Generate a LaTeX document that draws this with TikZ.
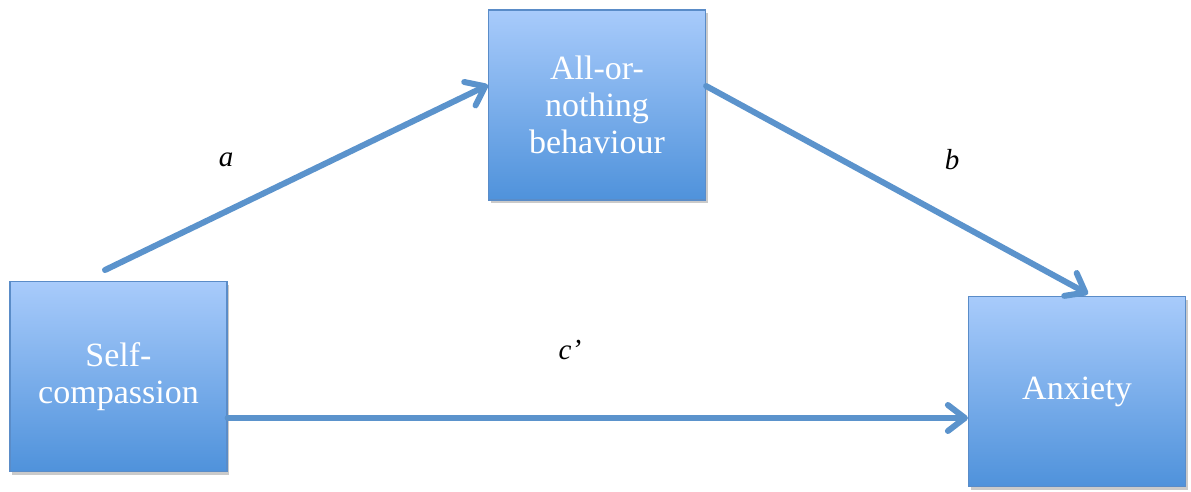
\documentclass[tikz,border=0pt]{standalone}
\usepackage{fontspec}
\setmainfont{Liberation Serif}
\usetikzlibrary{arrows.meta,shadows}
\begin{document}
\begin{tikzpicture}[x=1pt,y=-1pt,
  vbox/.style={draw=boxedge, line width=1.2pt, top color=boxtop, bottom color=boxbot,
    minimum width=217pt, minimum height=190pt, inner sep=0pt, text=white,
    font=\fontsize{34}{37}\selectfont, align=center,
    drop shadow={shadow xshift=2pt, shadow yshift=-3pt, opacity=0.35, fill=black!60}},
  conn/.style={draw=arrowcol, line width=6pt, line cap=round,
    -{Straight Barb[length=17pt, width=26pt, line width=6pt, round]}},
  lab/.style={font=\fontsize{29}{32}\selectfont\itshape}]
\definecolor{boxtop}{HTML}{A8CBFB}
\definecolor{boxbot}{HTML}{4F92DB}
\definecolor{boxedge}{HTML}{5A8CC8}
\definecolor{arrowcol}{HTML}{5B93CC}
\useasboundingbox (0,0) rectangle (1191,491);
\node[vbox] (sc) at (118.5,376.5) {Self-\\compassion};
\node[vbox] (aon) at (597,105) {All-or-\\nothing\\behaviour};
\node[vbox] (anx) at (1077,391.5) {Anxiety};
\coordinate (as) at (105,270);
\coordinate (bt) at (1088,294);
\draw[conn] (as) -- (aon.west |- 0,85);
\draw[conn] (aon.east |- 0,86) -- (bt);
\draw[conn] (sc.east |- 0,418) -- (anx.west |- 0,418);
\node[lab] (la) at (226,160) {a};
\node[lab] (lb) at (952,160) {b};
\node[lab] (lc) at (570,350) {c’};
\end{tikzpicture}
\end{document}
